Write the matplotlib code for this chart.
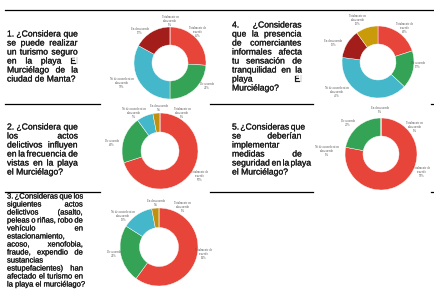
import matplotlib
matplotlib.use("Agg")
import matplotlib.pyplot as plt
from matplotlib.lines import Line2D
import matplotlib.patheffects as pe

W, H = 435, 289

# ---------------- data ----------------
categories = ["Totalmente de\nacuerdo", "De acuerdo", "Ni de acuerdo ni en\ndesacuerdo",
              "En desacuerdo", "Totalmente en\ndesacuerdo"]
q1_values = [26, 24, 33, 17, 0]
q2_values = [70, 20, 7, 3, 0]
q3_values = [60, 24, 13, 3, 0]
q4_values = [20, 17, 40, 13, 10]
q5_values = [78, 22, 0, 0, 0]

q1_text = ["1. ¿Considera que", "se puede realizar", "un turismo seguro", "en la playa El",
           "Murciélago de la", "ciudad de Manta?"]
q2_text = ["2. ¿Considera que", "los actos", "delictivos influyen", "en la frecuencia de",
           "vistas en la playa", "el Murciélago?"]
q3_text = ["3. ¿Consideras que los", "siguientes actos", "delictivos (asalto,",
           "peleas o riñas, robo de", "vehículo en", "estacionamiento,", "acoso, xenofobia,",
           "fraude, expendio de", "sustancias", "estupefacientes) han",
           "afectado el turismo en", "la playa el murciélago?"]
q4_text = ["4. ¿Consideras", "que la presencia", "de comerciantes", "informales afecta",
           "tu sensación de", "tranquilidad en la", "playa El", "Murciélago?"]
q5_text = ["5. ¿Consideras que", "se deberían", "implementar", "medidas de",
           "seguridad en la playa", "el Murciélago?"]

# ---------------- style ----------------
c_red, c_green, c_cyan, c_dred, c_gold = "#E8453A", "#34A356", "#45B7CB", "#A31D1A", "#C99A0A"
pal_a = [c_red, c_green, c_cyan, c_dred, c_gold]
pal_b = [c_red, c_green, c_cyan, "#C0900E", c_gold]

fig = plt.figure(figsize=(W / 100, H / 100), dpi=100)
fig.patch.set_facecolor("white")

def fx(x):
    return x / W

def fy(y):
    return 1 - y / H

# table rules
for y, segs in [(10, [(5, 433)]),
                (104, [(5, 100), (210, 313), (431, 435)]),
                (192, [(5, 100), (210, 313), (431, 435)])]:
    for x0, x1 in segs:
        fig.add_artist(Line2D([fx(x0), fx(x1)], [fy(y), fy(y)], color="black", lw=0.9))

# ---------------- justified question text ----------------
fig.canvas.draw()
renderer = fig.canvas.get_renderer()
heavy = [pe.withStroke(linewidth=0.15, foreground="#1a1a1a")]

def justified(lines, x0, x1, y0, dy, size, left_lines=()):
    kw = dict(fontsize=size, family="Liberation Sans", color="#1a1a1a", va="center",
              path_effects=heavy)
    for i, line in enumerate(lines):
        y = fy(y0 + i * dy)
        words = line.split()
        if len(words) == 1 or i == len(lines) - 1 or i in left_lines:
            fig.text(fx(x0), y, line, ha="left", **kw)
            continue
        arts = [fig.text(0, y, w, ha="left", **kw) for w in words]
        widths = [a.get_window_extent(renderer).width for a in arts]
        gap = max(1.2, (x1 - x0 - sum(widths)) / (len(words) - 1))
        x = x0
        for a, w in zip(arts, widths):
            a.set_x(fx(x))
            x += w + gap

justified(q1_text, 7, 78, 34, 9, 6.2)
justified(q2_text, 7, 78, 127, 9, 6.2)
justified(q3_text, 7, 83, 197, 8.0, 5.5, left_lines=(5, 8))
justified(q4_text, 232, 302, 25, 9, 6.2)
justified(q5_text, 232, 302, 127, 9, 6.2, left_lines=(2,))

# ---------------- donuts ----------------
def donut(values, cx, cy, R, colors, offsets):
    ax = fig.add_axes([fx(cx - R), fy(cy + R), 2 * R / W, 2 * R / H])
    ax.pie(values, colors=colors, startangle=90, counterclock=False, radius=1,
           wedgeprops=dict(width=0.5, edgecolor="white", linewidth=0.3))
    ax.set_xlim(-1, 1)
    ax.set_ylim(-1, 1)
    ax.set_axis_off()
    for cat, v, (dx, dy) in zip(categories, values, offsets):
        ax.text(dx / R, -dy / R, f"{cat}\n{v}%", ha="center", va="center",
                fontsize=2.2, family="Liberation Serif", color="#595959",
                linespacing=1.0, clip_on=False)

donut(q1_values, 170, 63, 36, pal_a,
      [(28, -31), (37, 23), (-48, 20), (-30, -32), (0, -42)])
donut(q2_values, 160, 151, 38, pal_b,
      [(40, 25), (-48, -8), (-26, -38), (-1, -43), (22, -38)])
donut(q3_values, 159, 247, 39, pal_b,
      [(45, 7), (-45, 7), (-36, -31), (-3, -44), (24, -40)])
donut(q4_values, 378, 62, 36, pal_a,
      [(27, -34), (40, 3), (-41, 30), (-45, -19), (-20, -42)])
donut(q5_values, 381, 154, 36, pal_a,
      [(41, 18), (-33, -31), (-54, -3), (-1, -44), (34, -27)])

fig.savefig("out.png", dpi=100, facecolor="white")
